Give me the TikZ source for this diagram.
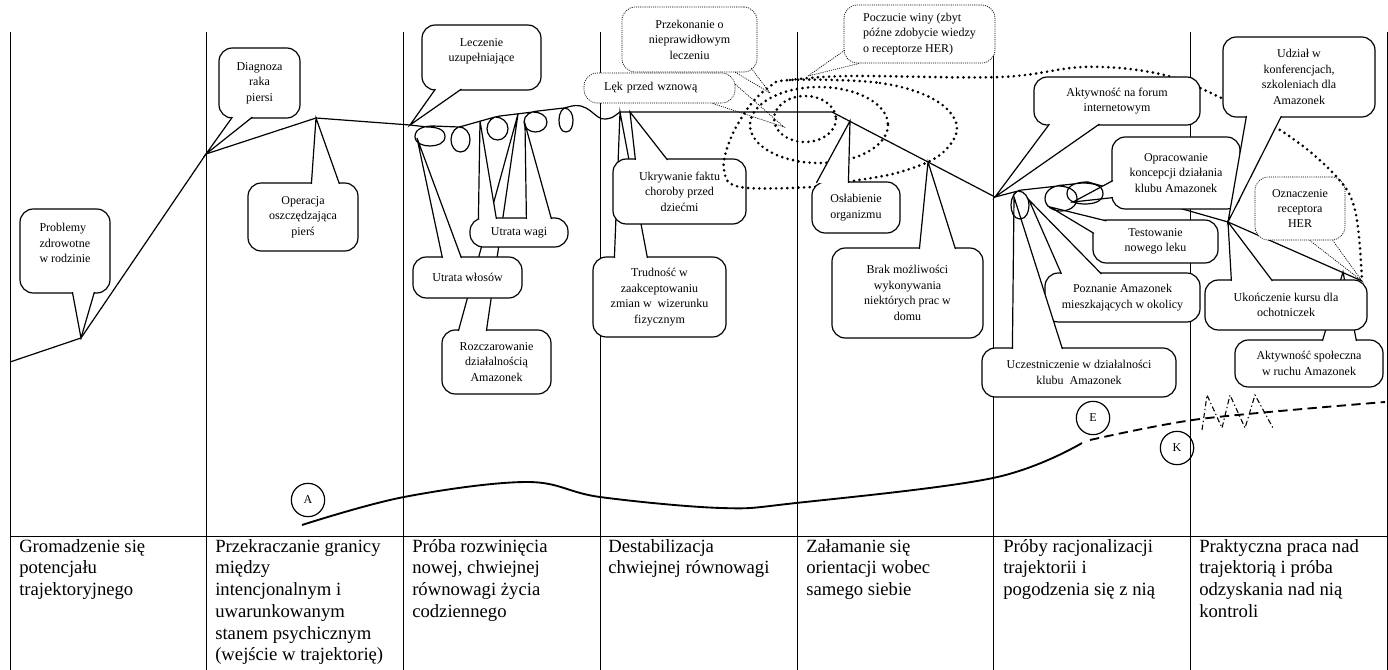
\documentclass[tikz,border=0pt]{standalone}
\usepackage{fontspec}
\setmainfont{Liberation Serif}
\usetikzlibrary{positioning}
\tikzset{bub/.style={draw, line width=0.9pt, rounded corners=10pt, fill=white, align=center, inner sep=0pt, font=\fontsize{9}{11.6}\selectfont}}
\tikzset{dbub/.style={bub, line width=0.5pt, dash pattern=on 0.8pt off 0.8pt}}
\tikzset{sz/.style 2 args={minimum width=#1*0.75pt, minimum height=#2*0.75pt}}
\tikzset{tr/.style={line width=0.9pt}}
\tikzset{curl/.style={line width=0.9pt}}
\tikzset{dots/.style={line width=2.2pt, dash pattern=on 0pt off 4.2pt, line cap=round}}
\tikzset{cell/.style={anchor=north west, align=left, inner sep=0pt, font=\fontsize{14}{16.3}\selectfont}}
\tikzset{stage/.style={circle, draw, line width=0.9pt, minimum size=25pt, inner sep=0pt, font=\fontsize{9}{11}\selectfont}}
\newcommand{\ptr}[3]{\fill[white] (#1) -- (#3) -- (#2) -- cycle; \draw[tr] (#1) -- (#3) -- (#2);}
\newcommand{\dptr}[3]{\draw[line width=0.5pt, dash pattern=on 0.8pt off 0.8pt] (#1) -- (#3) -- (#2);}

\begin{document}
\begin{tikzpicture}[x=0.75pt, y=-0.75pt]
    \useasboundingbox (0,0) rectangle (1388,670);
    \foreach \x in {10,206,403,600,797,993,1190,1387}
        \draw[line width=0.6pt] (\x,32) -- (\x,670);
    \draw[line width=0.6pt] (10,536) -- (1387,536);

    \coordinate (s0) at (10,362);
    \coordinate (t1) at (81,338);
    \coordinate (t2) at (206,154);
    \coordinate (t3) at (316,118);
    \coordinate (t4) at (410,125);
    \coordinate (t5) at (417,138);
    \coordinate (t6) at (480,121);
    \coordinate (t7) at (525,124);
    \coordinate (t7b) at (518,114);
    \coordinate (c3e) at (568,107);
    \coordinate (t9) at (620,112);
    \coordinate (t8) at (630,112);
    \coordinate (t10) at (832,112);
    \coordinate (t11) at (850,121);
    \coordinate (t12) at (928,162);
    \coordinate (t13) at (995,197);
    \coordinate (t14) at (1073,202);
    \coordinate (t15) at (1050,207);
    \coordinate (t16) at (1029,200);
    \coordinate (t17) at (1014,197);
    \coordinate (c6e) at (1088,182);
    \coordinate (t18) at (1228,222);
    \coordinate (t19) at (1343,272);
    \coordinate (t20) at (770,93);
    \coordinate (t21) at (784,127);
    \coordinate (t22) at (808,76);
    \coordinate (t23) at (1362,281);

    \draw[tr] (s0) -- (t1) -- (t2) -- (t3) -- (t4);
    \draw[tr] (c3e) .. controls (590,100) and (594,121) .. (606,119) .. controls (612,118) .. (t9);
    \draw[tr] (t9) -- (t10) -- (t12) -- (t13);
    \draw[tr] (c6e) -- (t18) -- (t23);

    \node[dbub, sz={135}{65}] (pk) at (689.5,39.5) {Przekonanie o\\nieprawidłowym\\leczeniu};
    \dptr{[shift={(-22,0)}]pk.south east}{[shift={(-6,-4)}]pk.south east}{t20}
    \node[dbub, sz={151}{30}, align=left, text width=83pt] (lk) at (659.5,88) {Lęk przed wznową};
    \dptr{[shift={(0,-19)}]lk.south east}{[shift={(-23,0)}]lk.south east}{t21}
    \node[dbub, sz={151}{58}, align=left] (pw) at (919.5,34) {Poczucie winy (zbyt\\późne zdobycie wiedzy\\o receptorze HER)};
    \dptr{[shift={(1,-13)}]pw.south west}{[shift={(16,0)}]pw.south west}{t22}
    \node[dbub, sz={90}{63}] (oz) at (1300,208.5) {Oznaczenie\\receptora\\HER};
    \dptr{[shift={(55,0)}]oz.south west}{[shift={(78,0)}]oz.south west}{t23}

    \node[bub, sz={90}{84}, align=left] (pz) at (65,251) {Problemy\\zdrowotne\\w rodzinie\\ \mbox{}};
    \ptr{[shift={(53,-1.5)}]pz.south west}{[shift={(75,-1.5)}]pz.south west}{t1}
    \node[bub, sz={81}{70}] (dg) at (259.5,83) {Diagnoza\\raka\\piersi};
    \ptr{[shift={(14,-1.5)}]dg.south west}{[shift={(34,-1.5)}]dg.south west}{t2}
    \node[bub, sz={110}{68}] (op) at (303,217) {Operacja\\oszczędzająca\\pierś};
    \ptr{[shift={(64,1.5)}]op.north west}{[shift={(92,1.5)}]op.north west}{t3}
    \node[bub, sz={119}{65}] (lu) at (481.5,57.5) {Leczenie\\uzupełniające\\ \mbox{}};
    \ptr{[shift={(14,-1.5)}]lu.south west}{[shift={(40,-1.5)}]lu.south west}{t4}
    \node[bub, sz={109}{64}] (rz) at (496.5,362) {Rozczarowanie\\działalnością\\Amazonek};
    \ptr{[shift={(17,1.5)}]rz.north west}{[shift={(45,1.5)}]rz.north west}{t7b}
    \node[bub, sz={109}{41}] (uwl) at (467.5,277.5) {Utrata włosów};
    \ptr{[shift={(30,1.5)}]uwl.north west}{[shift={(49,1.5)}]uwl.north west}{t5}
    \node[bub, sz={98}{29}] (uw) at (519,232.5) {Utrata wagi};
    \ptr{[shift={(9,1.5)}]uw.north west}{[shift={(27,1.5)}]uw.north west}{t6}
    \ptr{[shift={(57,1.5)}]uw.north west}{[shift={(82,1.5)}]uw.north west}{t7}
    \node[bub, sz={133}{80}] (td) at (659.5,297) {Trudność w\\zaakceptowaniu\\zmian w \ wizerunku\\fizycznym};
    \ptr{[shift={(22,1.5)}]td.north west}{[shift={(55,1.5)}]td.north west}{t9}
    \node[bub, sz={133}{65}] (uk) at (679.5,191.5) {Ukrywanie faktu\\choroby przed\\dziećmi};
    \ptr{[shift={(23,1.5)}]uk.north west}{[shift={(55,1.5)}]uk.north west}{t8}

    \draw[dots] plot[smooth cycle, tension=0.6] coordinates {(790,80) (880,83) (935,100) (957,127) (940,155) (900,172) (853,181) (812,187) (740,187) (724,170) (730,140) (748,108) (768,88)};
    \draw[dots] (805,119) ellipse [x radius=31, y radius=23];
    \draw[dots] (819,125) ellipse [x radius=69, y radius=38];
    \draw[dots] plot[smooth, tension=0.6] coordinates {(790,80) (850,76) (1000,77) (1083,67) (1150,72) (1200,88) (1280,130) (1333,173) (1355,210) (1362,281)};

    \node[bub, sz={88}{51}] (os) at (856,207.5) {Osłabienie\\organizmu};
    \ptr{[shift={(5,1.5)}]os.north west}{[shift={(37,1.5)}]os.north west}{t11}
    \node[bub, sz={151}{90}] (bm) at (907.5,293) {Brak możliwości\\wykonywania\\niektórych prac w\\domu};
    \ptr{[shift={(88,1.5)}]bm.north west}{[shift={(124,1.5)}]bm.north west}{t12}
    \node[bub, sz={166}{48}] (af) at (1117,101) {Aktywność na forum\\internetowym};
    \ptr{[shift={(16,-1.5)}]af.south west}{[shift={(66,-1.5)}]af.south west}{t13}
    \node[bub, sz={128}{72}] (ok) at (1176,173) {Opracowanie\\koncepcji działania\\klubu Amazonek};
    \ptr{[shift={(1.5,-29)}]ok.south west}{[shift={(1.5,-12)}]ok.south west}{t14}
    \node[bub, sz={125}{43}] (tn) at (1155.5,241.5) {Testowanie\\nowego leku};
    \ptr{[shift={(14,1.5)}]tn.north west}{[shift={(1.5,14)}]tn.north west}{t15}
    \node[bub, sz={155}{49}] (pa) at (1122.5,297.5) {Poznanie Amazonek\\mieszkających w okolicy};
    \ptr{[shift={(17,1.5)}]pa.north west}{[shift={(57,1.5)}]pa.north west}{t16}
    \node[bub, sz={194}{49}] (uc) at (1079,372.5) {Uczestniczenie w działalności\\klubu \ Amazonek};
    \ptr{[shift={(31,1.5)}]uc.north west}{[shift={(81,1.5)}]uc.north west}{t17}
    \node[bub, sz={152}{80}] (ud) at (1299,77) {Udział w\\konferencjach,\\szkoleniach dla\\Amazonek};
    \ptr{[shift={(24,-1.5)}]ud.south west}{[shift={(59,-1.5)}]ud.south west}{t18}
    \node[bub, sz={148}{47}] (as) at (1309,363.5) {Aktywność społeczna\\w ruchu Amazonek};
    \ptr{[shift={(88,1.5)}]as.north west}{[shift={(122,1.5)}]as.north west}{t19}
    \node[bub, sz={162}{50}] (uko) at (1286,305) {Ukończenie kursu dla\\ochotniczek};
    \ptr{[shift={(27,1.5)}]uko.north west}{[shift={(68,1.5)}]uko.north west}{t18}

    \draw[curl] (t4) -- (427,127) to[out=0,in=90] (445,136.5) to[out=-90,in=0] (430,146) to[out=180,in=-90] (415,136.5) to[out=90,in=180] (433,126)
        -- (459,127) to[out=0,in=90] (470,139.5) to[out=-90,in=0] (460.5,152) to[out=180,in=-90] (451,139.5) to[out=90,in=180] (463,126)
        -- (495,117) to[out=0,in=90] (508,128.5) to[out=-90,in=0] (497.5,140) to[out=180,in=-90] (487,128.5) to[out=90,in=180] (500,116)
        -- (533,112) to[out=0,in=90] (547,122) to[out=-90,in=0] (535.5,132) to[out=180,in=-90] (524,122) to[out=90,in=180] (538,111)
        -- (564,108) to[out=0,in=90] (573,120) to[out=-90,in=0] (566,132) to[out=180,in=-90] (559,120) to[out=90,in=180] (c3e);
    \draw[curl] (t13) -- (1018,191) to[out=0,in=90] (1029,205) to[out=-90,in=0] (1020,219) to[out=180,in=-90] (1011,205) to[out=90,in=180] (1022,190)
        -- (1058,186) to[out=0,in=90] (1077,198.5) to[out=-90,in=0] (1061,211) to[out=180,in=-90] (1045,198.5) to[out=90,in=180] (1064,185)
        -- (1082,183) to[out=0,in=90] (1103,193.5) to[out=-90,in=0] (1085,204) to[out=180,in=-90] (1067,193.5) to[out=90,in=180] (c6e);

    \draw[line width=1.4pt] plot[smooth, tension=0.6] coordinates {(302,525) (404,497) (527,482) (600,497) (721,508) (796,503) (993,478) (1082,443)};
    \draw[line width=1.4pt, dash pattern=on 7pt off 4pt] plot[smooth] coordinates {(1090,440) (1200,419) (1385,402)};
    \draw[line width=0.8pt, dash pattern=on 4pt off 2pt on 1pt off 2pt] (1202,430) -- (1207,395) -- (1222,428) -- (1230,395) -- (1245,428) -- (1255,395) -- (1273,428);
    \node[stage] (A) at (308,500) {A};
    \node[stage] (E) at (1093,418) {E};
    \node[stage] (K) at (1177,448) {K};

    \node[cell] (c1) at (19,539) {Gromadzenie się\\potencjału\\trajektoryjnego};
    \node[cell] (c2) at (215,539) {Przekraczanie granicy\\między\\intencjonalnym i\\uwarunkowanym\\stanem psychicznym\\(wejście w trajektorię)};
    \node[cell] (c3) at (412,539) {Próba rozwinięcia\\nowej, chwiejnej\\równowagi życia\\codziennego};
    \node[cell] (c4) at (608,539) {Destabilizacja\\chwiejnej równowagi};
    \node[cell] (c5) at (806,539) {Załamanie się\\orientacji wobec\\samego siebie};
    \node[cell] (c6) at (1003,539) {Próby racjonalizacji\\trajektorii i\\pogodzenia się z nią};
    \node[cell] (c7) at (1199,539) {Praktyczna praca nad\\trajektorią i próba\\odzyskania nad nią\\kontroli};
\end{tikzpicture}
\end{document}
